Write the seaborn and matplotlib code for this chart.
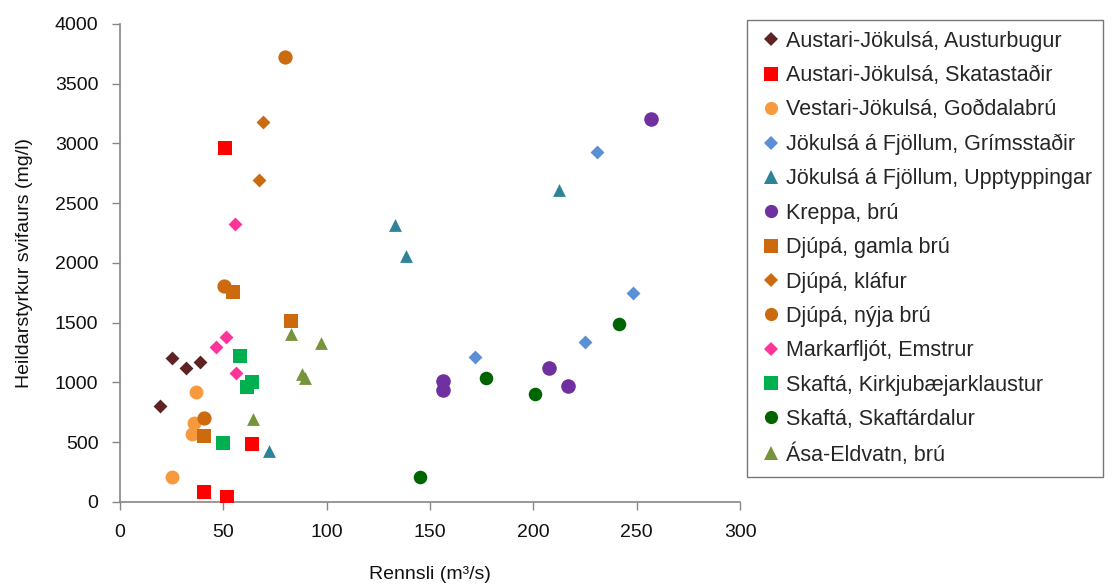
import matplotlib
matplotlib.use("Agg")
import matplotlib.pyplot as plt
from matplotlib.lines import Line2D
import pandas as pd
import seaborn as sns

# Measuring stations (legend order)
stations = [
    "Austari-Jökulsá, Austurbugur",
    "Austari-Jökulsá, Skatastaðir",
    "Vestari-Jökulsá, Goðdalabrú",
    "Jökulsá á Fjöllum, Grímsstaðir",
    "Jökulsá á Fjöllum, Upptyppingar",
    "Kreppa, brú",
    "Djúpá, gamla brú",
    "Djúpá, kláfur",
    "Djúpá, nýja brú",
    "Markarfljót, Emstrur",
    "Skaftá, Kirkjubæjarklaustur",
    "Skaftá, Skaftárdalur",
    "Ása-Eldvatn, brú",
]

# Discharge (m3/s) and total suspended sediment concentration (mg/l) per station
austurbugur_q = [19.4, 25.2, 31.9, 38.7]
austurbugur_c = [803, 1205, 1121, 1172]
skatastadir_q = [50.8, 63.9, 40.6, 51.8]
skatastadir_c = [2962, 485, 84, 42]
godalabru_q = [25.4, 36.8, 35.8, 34.8]
godalabru_c = [213, 921, 661, 569]
grimsstadir_q = [171.8, 225.0, 248.2, 230.8]
grimsstadir_c = [1213, 1339, 1749, 2929]
upptyppingar_q = [72.1, 133.1, 138.4, 212.4]
upptyppingar_c = [427, 2318, 2059, 2611]
kreppa_q = [156.3, 156.3, 207.6, 216.8, 256.9]
kreppa_c = [1013, 937, 1121, 971, 3205]
djupa_gamla_q = [54.7, 82.7, 40.6]
djupa_gamla_c = [1757, 1515, 552]
djupa_klafur_q = [69.2, 67.3]
djupa_klafur_c = [3180, 2695]
djupa_nyja_q = [79.8, 50.3, 40.6]
djupa_nyja_c = [3724, 1808, 703]
emstrur_q = [55.6, 51.3, 46.5, 56.1]
emstrur_c = [2326, 1381, 1297, 1080]
kirkjubaejarkl_q = [58.1, 63.9, 61.5, 49.8]
kirkjubaejarkl_c = [1222, 1004, 962, 494]
skaftardalur_q = [177.1, 200.8, 241.5, 145.2]
skaftardalur_c = [1038, 904, 1490, 209]
asa_eldvatn_q = [82.7, 97.3, 88.1, 89.5, 64.4]
asa_eldvatn_c = [1406, 1331, 1071, 1038, 694]

x_ticks = [0, 50, 100, 150, 200, 250, 300]
y_ticks = [0, 500, 1000, 1500, 2000, 2500, 3000, 3500, 4000]

series_q = [austurbugur_q, skatastadir_q, godalabru_q, grimsstadir_q, upptyppingar_q,
            kreppa_q, djupa_gamla_q, djupa_klafur_q, djupa_nyja_q, emstrur_q,
            kirkjubaejarkl_q, skaftardalur_q, asa_eldvatn_q]
series_c = [austurbugur_c, skatastadir_c, godalabru_c, grimsstadir_c, upptyppingar_c,
            kreppa_c, djupa_gamla_c, djupa_klafur_c, djupa_nyja_c, emstrur_c,
            kirkjubaejarkl_c, skaftardalur_c, asa_eldvatn_c]

# Marker style per station: (colour, marker, area)
styles = [
    ("#5E2424", "D", 50),
    ("#FF0000", "s", 92),
    ("#F79A3E", "o", 100),
    ("#5B8FD6", "D", 50),
    ("#2E8399", "^", 85),
    ("#7030A0", "o", 110),
    ("#CC6A10", "s", 92),
    ("#CC6A10", "D", 50),
    ("#CC6A10", "o", 105),
    ("#FF3399", "D", 50),
    ("#00B050", "s", 92),
    ("#006400", "o", 95),
    ("#77933C", "^", 85),
]

df = pd.concat(
    [pd.DataFrame({"station": name, "rennsli": q, "styrkur": c})
     for name, q, c in zip(stations, series_q, series_c)],
    ignore_index=True,
)

sns.set_style("white")
plt.rcParams["font.family"] = ["Liberation Sans", "DejaVu Sans"]

FS = 14

fig = plt.figure(figsize=(11.12, 5.85), dpi=100)
ax = fig.add_axes([0.1079, 0.1419, 0.5576, 0.8171])

for name, (color, marker, area) in zip(stations, styles):
    sub = df[df["station"] == name]
    sns.scatterplot(data=sub, x="rennsli", y="styrkur", ax=ax, color=color,
                    marker=marker, s=area, linewidth=0, legend=False, zorder=3)

ax.set_xlim(0, 300)
ax.set_ylim(0, 4000)
ax.set_xticks(x_ticks)
ax.set_yticks(y_ticks)
ax.tick_params(axis="both", labelsize=FS, colors="#868686", labelcolor="#111111",
               length=5.5, width=1, direction="out", left=True, bottom=True, pad=10)
for side in ("top", "right"):
    ax.spines[side].set_visible(False)
for side in ("left", "bottom"):
    ax.spines[side].set_color("#868686")
    ax.spines[side].set_linewidth(1.2)

ax.set_xlabel("Rennsli (m³/s)", fontsize=FS, labelpad=18, color="#111111")
ax.set_ylabel("Heildarstyrkur svifaurs (mg/l)", fontsize=FS, labelpad=16, color="#111111")

handles = [
    Line2D([], [], linestyle="none", marker=m, color=c, markeredgewidth=0,
           markersize={"D": 7.5, "s": 9.5, "o": 9.5, "^": 9.5}[m])
    for c, m, _ in styles
]
leg = fig.legend(handles, stations, loc="upper left",
                 bbox_to_anchor=(747 / 1112, 1 - 20 / 585), frameon=True,
                 fontsize=15.5, handlelength=1.2, handletextpad=0.1,
                 labelspacing=0.62, borderpad=0.5, borderaxespad=0,
                 fancybox=False)
leg.get_frame().set_edgecolor("#555555")
leg.get_frame().set_linewidth(1.0)

fig.savefig("out.png", dpi=100)
